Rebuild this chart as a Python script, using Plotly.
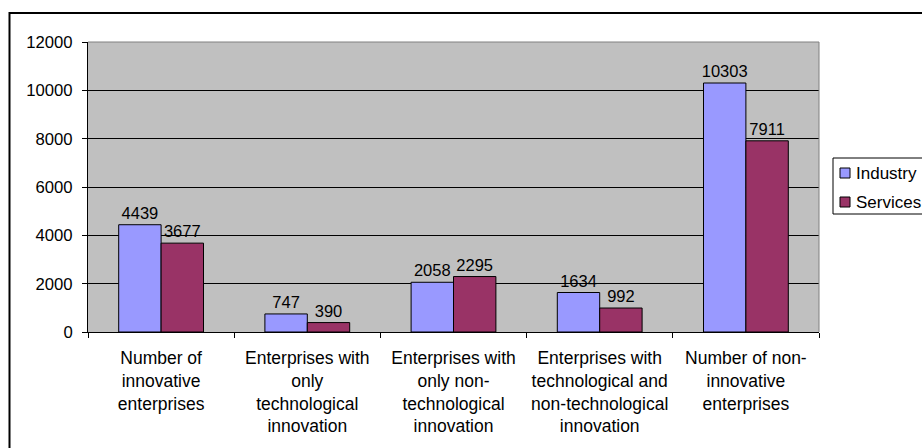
import plotly.graph_objects as go

categories = [
    "Number of<br>innovative<br>enterprises",
    "Enterprises with<br>only<br>technological<br>innovation",
    "Enterprises with<br>only non-<br>technological<br>innovation",
    "Enterprises with<br>technological and<br>non-technological<br>innovation",
    "Number of non-<br>innovative<br>enterprises",
]
series_names = ["Industry", "Services"]
industry = [4439, 747, 2058, 1634, 10303]
services = [3677, 390, 2295, 992, 7911]
colors = ["#9999FF", "#993366"]
y_ticks = [0, 2000, 4000, 6000, 8000, 10000, 12000]

FONT = "Liberation Sans, Arial, sans-serif"

# target geometry in page pixels (body margin removed by post_script)
W, H = 922, 448
L, R, T, B = 88, 819, 42, 332
pw, ph = R - L, B - T


def px_x(x):
    return (x - L) / pw


def px_y(y):
    return (B - y) / ph


fig = go.Figure()
for name, vals, col in zip(series_names, [industry, services], colors):
    fig.add_trace(go.Bar(
        name=name, x=categories, y=vals,
        marker=dict(color=col, line=dict(color="black", width=1)),
        text=[str(v) for v in vals], textposition="outside",
        constraintext="none",
        textfont=dict(size=16.5, color="black", family=FONT), cliponaxis=False,
        showlegend=False,
    ))

fig.update_layout(
    width=W, height=H,
    margin=dict(l=L, r=W - R, t=T, b=H - B, autoexpand=False),
    paper_bgcolor="white", plot_bgcolor="#C0C0C0",
    font=dict(family=FONT, size=16.5, color="black"),
    barmode="group", bargap=0.42, bargroupgap=0,
    showlegend=False,
)
fig.update_xaxes(
    showline=True, linecolor="black", linewidth=1,
    ticks="outside", ticklen=5, tickcolor="black", tickson="boundaries",
    showgrid=False, tickfont=dict(size=17.5, family=FONT),
    ticklabelstandoff=10,
)
fig.update_yaxes(
    range=[0, 12000], tickvals=y_ticks, ticktext=[str(v) for v in y_ticks],
    showline=True, linecolor="black", linewidth=1,
    ticks="outside", ticklen=5, tickcolor="black",
    showgrid=True, gridcolor="black", gridwidth=1,
    zeroline=False, tickfont=dict(size=16.7, family=FONT),
    ticklabelstandoff=6,
)
# gray plot-area border top and right
fig.add_shape(type="line", xref="paper", yref="paper", x0=0, x1=1, y0=1, y1=1,
              line=dict(color="#808080", width=1), layer="above")
fig.add_shape(type="line", xref="paper", yref="paper", x0=1, x1=1, y0=0, y1=1,
              line=dict(color="#808080", width=1), layer="above")
# outer chart border
fig.add_shape(type="rect", xref="paper", yref="paper",
              x0=px_x(9.5), x1=px_x(940), y0=px_y(470), y1=px_y(13),
              line=dict(color="black", width=2), fillcolor="rgba(0,0,0,0)",
              layer="below")

# legend (drawn as box, swatches and text)
fig.add_shape(type="rect", xref="paper", yref="paper",
              x0=px_x(833), x1=px_x(935), y0=px_y(214), y1=px_y(158),
              line=dict(color="black", width=1), fillcolor="white", layer="above")
for i, (name, col) in enumerate(zip(series_names, colors)):
    cy = 173 + i * 29
    fig.add_shape(type="rect", xref="paper", yref="paper",
                  x0=px_x(840), x1=px_x(850), y0=px_y(cy + 5), y1=px_y(cy - 5),
                  line=dict(color="black", width=1), fillcolor=col, layer="above")
    fig.add_annotation(xref="paper", yref="paper", x=px_x(854), y=px_y(cy),
                       text=name, showarrow=False, xanchor="left", yanchor="middle",
                       font=dict(size=17, family=FONT, color="black"))

fig.write_html(
    "out.html",
    config={"displayModeBar": False},
    post_script="document.body.style.margin='0';document.body.style.overflow='hidden';",
)
